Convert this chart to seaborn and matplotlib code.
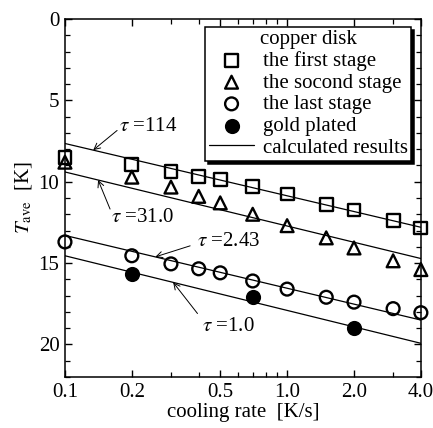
import numpy as np
import pandas as pd
import matplotlib
matplotlib.use("Agg")
import matplotlib.pyplot as plt
from matplotlib.ticker import FixedLocator, FixedFormatter, NullFormatter
import seaborn as sns

# Measured mean temperatures of the copper disk vs. cooling rate
rates = [0.1, 0.2, 0.3, 0.4, 0.5, 0.7, 1.0, 1.5, 2.0, 3.0, 4.0]
first_stage = [8.5, 8.93, 9.36, 9.66, 9.85, 10.27, 10.76, 11.38, 11.74, 12.4, 12.84]
second_stage = [8.8, 9.72, 10.33, 10.9, 11.3, 12.0, 12.7, 13.45, 14.07, 14.86, 15.4]
last_stage = [13.7, 14.55, 15.05, 15.35, 15.6, 16.1, 16.6, 17.1, 17.4, 17.8, 18.05]
gold_rates = [0.2, 0.7, 2.0]
gold_plated = [15.66, 17.1, 18.96]

# Calculated results (straight lines on the log rate axis), one per tau
calc_rates = [0.1, 4.0]
tau_values = ["114", "31.0", "2.43", "1.0"]
calc_114 = [7.65, 12.8]
calc_31 = [9.4, 14.72]
calc_2_43 = [13.3, 18.5]
calc_1_0 = [14.55, 19.93]

x_ticks = [0.1, 0.2, 0.5, 1.0, 2.0, 4.0]
x_tick_labels = ["0.1", "0.2", "0.5", "1.0", "2.0", "4.0"]
x_minor = [0.3, 0.4, 0.6, 0.7, 0.8, 0.9, 3.0]
y_ticks = [0, 5, 10, 15, 20]

FS = 15

sns.set_theme(style="ticks")
plt.rcParams.update({
    "font.family": ["Liberation Serif", "DejaVu Serif"],
    "mathtext.fontset": "stix",
    "font.size": FS,
    "axes.linewidth": 1.1,
    "xtick.direction": "in",
    "ytick.direction": "in",
    "xtick.top": True,
    "ytick.right": True,
    "xtick.major.size": 5,
    "ytick.major.size": 5,
    "xtick.minor.size": 3.5,
    "ytick.minor.size": 3.5,
    "xtick.major.width": 1.0,
    "ytick.major.width": 1.0,
    "xtick.minor.width": 0.9,
    "ytick.minor.width": 0.9,
    "xtick.color": "black",
    "ytick.color": "black",
    "axes.edgecolor": "black",
    "text.color": "black",
    "axes.labelcolor": "black",
})

fig = plt.figure(figsize=(4.33, 4.28), dpi=100)
ax = fig.add_axes([0.150, 0.1192, 0.822, 0.8364])
ax.set_xscale("log")

calc_sets = [calc_114, calc_31, calc_2_43, calc_1_0]
for i, vals in enumerate(calc_sets):
    sns.lineplot(x=calc_rates, y=vals, ax=ax, color="black", lw=0.9,
                 label="calculated results" if i == 0 else None, zorder=2)

mk = dict(s=85, linewidth=1.7, zorder=3, clip_on=False)
sns.scatterplot(x=rates, y=first_stage, ax=ax, marker="s", fc="none",
                ec="black", label="the first stage", **mk)
sns.scatterplot(x=rates, y=second_stage, ax=ax, marker="^", fc="none",
                ec="black", label="the socond stage", **mk)
sns.scatterplot(x=rates, y=last_stage, ax=ax, marker="o", fc="none",
                ec="black", label="the last stage", **mk)
sns.scatterplot(x=gold_rates, y=gold_plated, ax=ax, marker="o", fc="black",
                ec="black", label="gold plated", **mk)


def on_line(x, vals):
    t = (np.log10(x) - np.log10(calc_rates[0])) / (np.log10(calc_rates[1]) - np.log10(calc_rates[0]))
    return vals[0] + t * (vals[1] - vals[0])


# tau annotations: (text position, arrow tail, arrow head rate)
annots = [
    ((0.176, 6.6), (0.1717, 6.85), 0.134),
    ((0.162, 12.17), (0.1596, 11.68), 0.141),
    ((0.392, 13.7), (0.366, 13.94), 0.255),
    ((0.415, 18.9), (0.395, 18.1), 0.307),
]
for tau, vals, (tpos, tail, hx) in zip(tau_values, calc_sets, annots):
    ax.annotate("", xy=(hx, on_line(hx, vals)), xytext=tail,
                arrowprops=dict(arrowstyle="->", lw=0.7, color="black",
                                mutation_scale=11, shrinkA=0, shrinkB=0))
    ax.text(tpos[0], tpos[1], r"$\tau$ =" + tau, ha="left", va="center",
            fontsize=FS)

ax.set_xlim(0.1, 4.0)
ax.set_ylim(22, 0)
ax.xaxis.set_major_locator(FixedLocator(x_ticks))
ax.xaxis.set_major_formatter(FixedFormatter(x_tick_labels))
ax.xaxis.set_minor_locator(FixedLocator(x_minor))
ax.xaxis.set_minor_formatter(NullFormatter())
ax.set_yticks(y_ticks)
ax.set_yticks(np.arange(0, 23, 1), minor=True)
ax.tick_params(labelsize=FS, pad=4)

ax.set_xlabel("cooling rate  [K/s]", fontsize=FS, labelpad=1)
ax.set_ylabel(r"$T_{\rm ave}$  [K]", fontsize=FS, labelpad=3)

handles, labels = ax.get_legend_handles_labels()
order = ["the first stage", "the socond stage", "the last stage",
         "gold plated", "calculated results"]
hmap = dict(zip(labels, handles))
leg = ax.legend([hmap[k] for k in order], order, title="copper disk",
                loc="upper right", bbox_to_anchor=(0.972, 0.978),
                borderaxespad=0, fontsize=FS, title_fontsize=FS,
                frameon=True, fancybox=False, framealpha=1,
                edgecolor="black", facecolor="white",
                labelspacing=0.1, handlelength=2.2, handletextpad=0.4,
                borderpad=0.15, shadow={"color": "black", "alpha": 1})
leg.get_frame().set_linewidth(1.1)
leg.set_zorder(5)

fig.savefig("out.png", dpi=100)
